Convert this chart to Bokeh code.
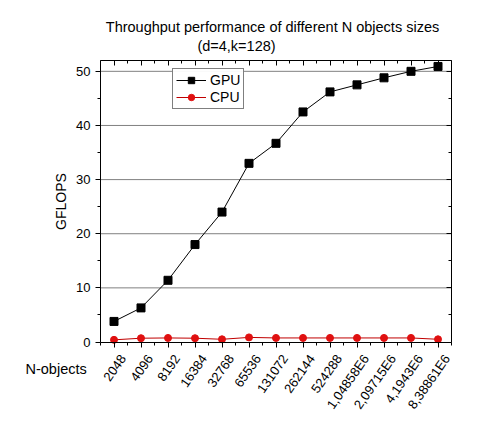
import math
from bokeh.plotting import figure
from bokeh.models import (FixedTicker, LinearAxis, Range1d, Label, Legend, ColumnDataSource)
from bokeh.core.properties import value
from bokeh.embed import file_html
from bokeh.resources import INLINE

# ---- data ----
n_labels = ["2048", "4096", "8192", "16384", "32768", "65536", "131072", "262144",
            "524288", "1,04858E6", "2,09715E6", "4,1943E6", "8,38861E6"]
gpu_gflops = [3.8, 6.3, 11.4, 18.0, 24.0, 33.0, 36.7, 42.5, 46.2, 47.5, 48.8, 50.0, 50.9]
cpu_gflops = [0.4, 0.7, 0.75, 0.7, 0.5, 0.85, 0.75, 0.75, 0.75, 0.75, 0.75, 0.75, 0.5]
y_ticks = [0, 10, 20, 30, 40, 50]
y_minor = [5, 15, 25, 35, 45]
y_max = 52
title_line1 = "Throughput performance of different N objects sizes"
title_line2 = "(d=4,k=128)"
x_title = "N-objects"
y_title = "GFLOPS"

FONT = "Liberation Sans"
BLACK = "black"

# ---- layout (pixels) ----
W, H = 486, 415
BOX_L, BOX_R, BOX_T, BOX_B = 100, 451, 60, 341.5

n = len(n_labels)
idx = list(range(n))
x_lo, x_hi = -0.5, n - 0.5
px_x = (BOX_R - BOX_L) / (x_hi - x_lo)
px_y = (BOX_B - BOX_T) / y_max
x_range = Range1d(x_lo - BOX_L / px_x, x_hi + (W - BOX_R) / px_x)
y_range = Range1d(-(H - BOX_B) / px_y, y_max + BOX_T / px_y)

src = ColumnDataSource(dict(x=idx, gpu=gpu_gflops, cpu=cpu_gflops,
                            base=[0] * n, lab=n_labels))

p = figure(width=W, height=H, output_backend="svg", toolbar_location=None,
           x_range=x_range, y_range=y_range,
           x_axis_location=None, y_axis_location=None,
           min_border=0, min_border_left=0, min_border_right=0,
           min_border_top=0, min_border_bottom=0)
p.outline_line_color = None
p.background_fill_color = "white"
p.border_fill_color = "white"
p.grid.visible = False

xt = FixedTicker(ticks=idx, minor_ticks=[i + 0.5 for i in range(-1, n)])
yt = FixedTicker(ticks=y_ticks, minor_ticks=y_minor)

# bottom axis at y = 0 (labels drawn below as rotated text)
xa = LinearAxis(ticker=xt, fixed_location=0, bounds=(x_lo, x_hi))
xa.major_label_overrides = {i: "" for i in idx}
xa.major_tick_in = 0
xa.major_tick_out = 5
xa.minor_tick_in = 0
xa.minor_tick_out = 3
xa.axis_line_color = BLACK
p.add_layout(xa, "below")

# left axis at x = -0.5
ya = LinearAxis(ticker=yt, fixed_location=x_lo, bounds=(0, y_max))
ya.axis_label = y_title
ya.axis_label_text_font = FONT
ya.axis_label_text_font_size = "14px"
ya.axis_label_text_font_style = "normal"
ya.axis_label_text_color = BLACK
ya.axis_label_standoff = 4
ya.major_label_text_font = FONT
ya.major_label_text_font_size = "13px"
ya.major_label_text_color = BLACK
ya.major_label_standoff = 5
ya.major_tick_in = 0
ya.major_tick_out = 5
ya.minor_tick_in = 0
ya.minor_tick_out = 3
p.add_layout(ya, "left")

# mirrored axes (top/right), inward ticks, no labels
top = LinearAxis(ticker=xt, fixed_location=y_max, bounds=(x_lo, x_hi),
                 major_tick_in=5, major_tick_out=0, minor_tick_in=3, minor_tick_out=0,
                 major_label_overrides={i: "" for i in idx}, major_label_standoff=0)
right = LinearAxis(ticker=yt, fixed_location=x_hi, bounds=(0, y_max),
                   major_tick_in=5, major_tick_out=0, minor_tick_in=3, minor_tick_out=0,
                   major_label_overrides={v: "" for v in y_ticks}, major_label_standoff=0)
p.add_layout(top, "above")
p.add_layout(right, "right")

# horizontal grid lines inside the box
grid_y = y_ticks[1:]
p.segment(x0=[x_lo] * len(grid_y), x1=[x_hi] * len(grid_y), y0=grid_y, y1=grid_y,
          line_color="#808080", line_width=1)

# rotated category labels under the x axis
p.text(x="x", y="base", text="lab", source=src, angle=55, angle_units="deg",
       text_align="right", text_baseline="middle", x_offset=9, y_offset=14,
       text_font=value(FONT), text_font_size="13px", text_color=BLACK)

# series
l1 = p.line("x", "gpu", source=src, line_color=BLACK, line_width=1)
m1 = p.scatter("x", "gpu", source=src, marker="square", size=8, fill_color=BLACK, line_color=BLACK)
l2 = p.line("x", "cpu", source=src, line_color="#c00000", line_width=1)
m2 = p.scatter("x", "cpu", source=src, marker="circle", size=7, fill_color="#e01010", line_color="#e01010")

legend = Legend(items=[("GPU", [l1, m1]), ("CPU", [l2, m2])], location=(172, H - 109))
legend.label_text_font = FONT
legend.label_text_font_size = "14px"
legend.label_text_color = BLACK
legend.border_line_color = BLACK
legend.border_line_width = 1
legend.glyph_height = 16
legend.label_height = 16
legend.glyph_width = 30
legend.padding = 3
legend.spacing = 1
legend.margin = 0
legend.label_standoff = 4
p.add_layout(legend, "center")

# title lines and x label (screen units from the bottom-left of the canvas-sized frame)
t1 = Label(x=272, y=H - 26, x_units="screen", y_units="screen", text=title_line1,
           text_align="center", text_baseline="middle", text_font=FONT, text_font_size="14.5px",
           text_color=BLACK)
t2 = Label(x=236, y=H - 45, x_units="screen", y_units="screen", text=title_line2,
           text_align="center", text_baseline="middle", text_font=FONT, text_font_size="14.5px",
           text_color=BLACK)
t3 = Label(x=25, y=H - 368, x_units="screen", y_units="screen", text=x_title,
           text_align="left", text_baseline="middle", text_font=FONT, text_font_size="14.5px",
           text_color=BLACK)
for t in (t1, t2, t3):
    p.add_layout(t)

open("out.html", "w").write(file_html(p, INLINE))
